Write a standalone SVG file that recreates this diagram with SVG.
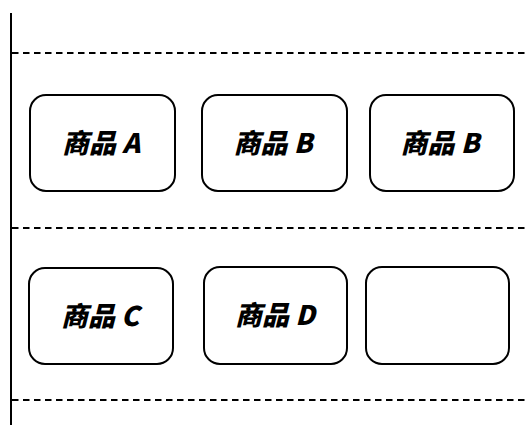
<svg xmlns="http://www.w3.org/2000/svg" width="529" height="425" viewBox="0 0 529 425">
<style>
.box{fill:#fff;stroke:#000;stroke-width:2}
.lbl{font-family:"Noto Sans CJK SC","Noto Sans CJK JP",sans-serif;font-size:27px;font-weight:900;font-style:italic;fill:#000;text-anchor:middle}
.dash{stroke:#000;stroke-width:1.8;stroke-dasharray:6.5 4.5;fill:none}
.solid{stroke:#000;stroke-width:2;fill:none}
</style>
<rect width="529" height="425" fill="#fff"/>
<g id="lines">
<line class="solid" x1="11" y1="13" x2="11" y2="425"/>
<line class="dash" x1="12" y1="53" x2="529" y2="53"/>
<line class="dash" x1="12" y1="228" x2="529" y2="228"/>
<line class="dash" x1="12" y1="400" x2="529" y2="400"/>
</g>
<g id="nodeA"><rect class="box" x="30" y="95" width="145" height="96" rx="16"/><text class="lbl" x="101" y="153">商品 A</text></g>
<g id="nodeB1"><rect class="box" x="202" y="95" width="145" height="96" rx="16"/><text class="lbl" x="273" y="153">商品 B</text></g>
<g id="nodeB2"><rect class="box" x="370" y="95" width="144" height="96" rx="16"/><text class="lbl" x="440" y="153">商品 B</text></g>
<g id="nodeC"><rect class="box" x="29" y="268" width="144" height="96" rx="16"/><text class="lbl" x="100" y="326">商品 C</text></g>
<g id="nodeD"><rect class="box" x="204" y="267" width="143" height="97" rx="16"/><text class="lbl" x="275" y="325">商品 D</text></g>
<g id="nodeE"><rect class="box" x="366" y="267" width="143" height="97" rx="16"/></g>
</svg>
